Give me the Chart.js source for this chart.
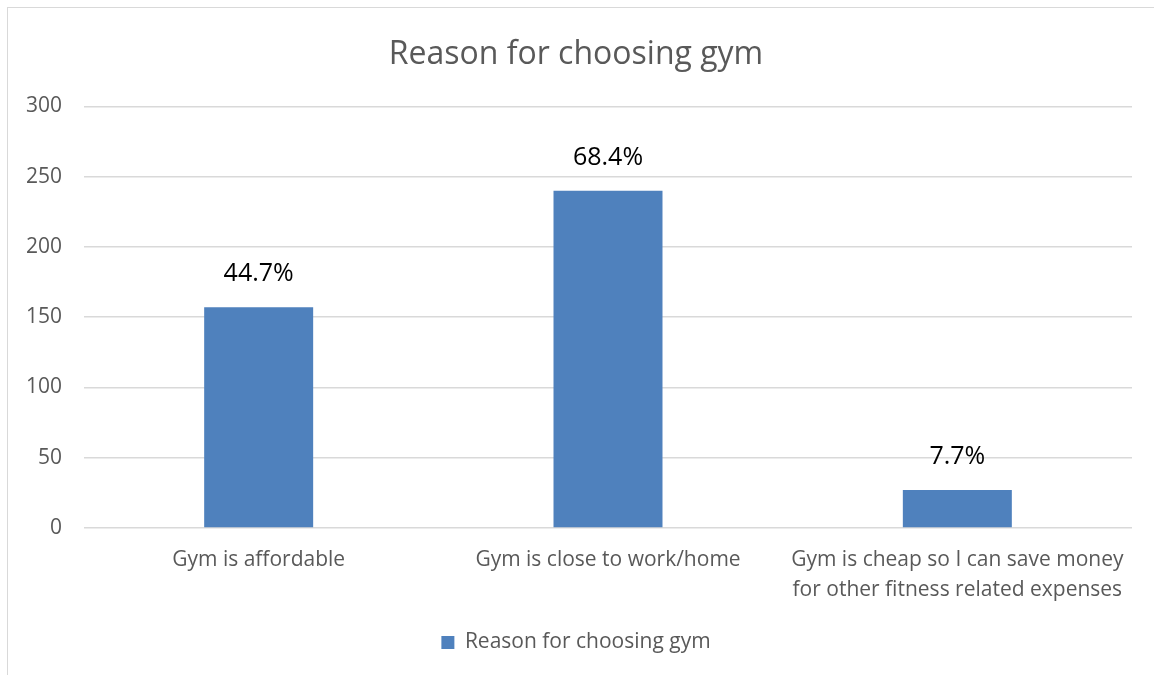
<!DOCTYPE html>
<html>
<head>
<meta charset="utf-8">
<script src="https://cdn.jsdelivr.net/npm/chart.js@4.4.1/dist/chart.umd.min.js"></script>
<style>
  body { margin: 0; background: #fff; overflow: hidden; }
  #box { position: absolute; left: 7px; top: 7px; width: 1160px; height: 720px; border: 1px solid #d9d9d9; }
  canvas { position: absolute; left: 0; top: 0; }
</style>
</head>
<body>
<div id="box"></div>
<canvas id="chart" width="1154" height="700"></canvas>
<script>
// Données du graphique
const categories = [
  'Gym is affordable',
  'Gym is close to work/home',
  ['Gym is cheap so I can save money', 'for other fitness related expenses']
];
const counts = [157, 240, 27];
const percentLabels = ['44.7%', '68.4%', '7.7%'];
const yTicks = [0, 50, 100, 150, 200, 250, 300];
const seriesName = 'Reason for choosing gym';

const fontFamily = '"Open Sans", "Noto Sans", sans-serif';

// Plugin pour afficher les pourcentages au-dessus des barres
const percentPlugin = {
  id: 'percentLabels',
  afterDatasetsDraw(chart) {
    const ctx = chart.ctx;
    const meta = chart.getDatasetMeta(0);
    ctx.save();
    ctx.fillStyle = '#000';
    ctx.font = '25px ' + fontFamily;
    ctx.textAlign = 'center';
    ctx.textBaseline = 'middle';
    meta.data.forEach((bar, i) => {
      ctx.fillText(percentLabels[i], bar.x, bar.y - 33);
    });
    ctx.restore();
  }
};

const ctx = document.getElementById('chart').getContext('2d');
new Chart(ctx, {
  type: 'bar',
  data: {
    labels: categories,
    datasets: [{
      label: seriesName,
      data: counts,
      backgroundColor: '#4f81bd',
      borderWidth: 0,
      categoryPercentage: 1,
      barPercentage: 0.312
    }]
  },
  options: {
    responsive: false,
    animation: false,
    layout: { padding: { left: 20, right: 22, top: 16, bottom: 37 } },
    plugins: {
      title: {
        display: true,
        text: seriesName,
        color: '#595959',
        font: { family: fontFamily, size: 32, weight: 'normal' },
        padding: { top: 20, bottom: 32 }
      },
      legend: {
        position: 'bottom',
        labels: {
          color: '#595959',
          font: { family: fontFamily, size: 21 },
          boxWidth: 13,
          boxHeight: 13,
          padding: 18
        }
      },
      tooltip: { enabled: false }
    },
    scales: {
      x: {
        grid: { display: false },
        border: { display: false },
        ticks: {
          color: '#595959',
          font: { family: fontFamily, size: 21, lineHeight: 1.43 },
          maxRotation: 0,
          autoSkip: false,
          padding: 9
        }
      },
      y: {
        min: 0,
        max: 300,
        afterBuildTicks(scale) {
          scale.ticks = yTicks.map(v => ({ value: v }));
        },
        afterFit(scale) {
          scale.width = 64;
        },
        grid: { color: '#d9d9d9', lineWidth: 1.5, drawTicks: false },
        border: { display: false },
        ticks: {
          color: '#595959',
          font: { family: fontFamily, size: 21 },
          padding: 22
        }
      }
    }
  },
  plugins: [percentPlugin]
});
</script>
</body>
</html>
